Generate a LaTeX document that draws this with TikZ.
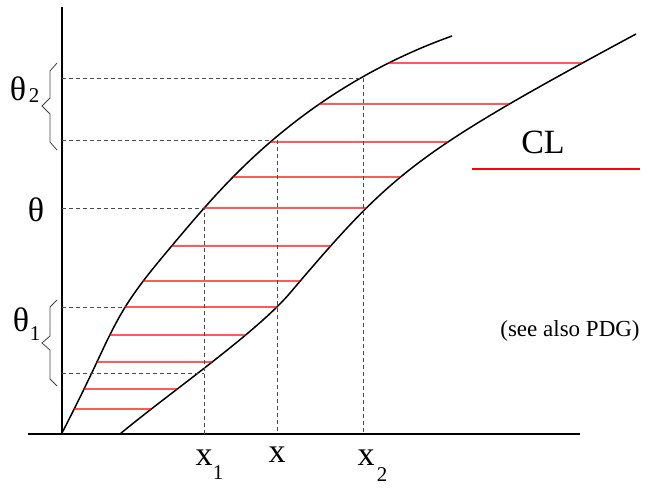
\documentclass[tikz,border=0pt]{standalone}
\usepackage{fontspec}
\setmainfont{Liberation Serif}
\usetikzlibrary{intersections,hobby}
\begin{document}
\begin{tikzpicture}[x=1pt,y=-1pt,
  curve/.style={line width=1.5pt, black, line join=round},
  axisline/.style={line width=1.6pt, black},
  redline/.style={red, line width=1.4pt},
  guide/.style={black!70, line width=0.9pt, dash pattern=on 4pt off 3pt},
  bracestyle/.style={black!75, line width=0.8pt},
  big/.style={inner sep=0pt, font=\fontsize{34}{40}\selectfont},
  sub/.style={inner sep=0pt, font=\fontsize{21}{25}\selectfont},
  note/.style={inner sep=0pt, font=\fontsize{23}{28}\selectfont}]
\useasboundingbox (0,0) rectangle (647,487);
% axes
\coordinate (yt) at (62,7);
\coordinate (o) at (62,434);
\coordinate (xl) at (28,434);
\coordinate (xr) at (580,434);
\draw[axisline] (yt) -- (o);
\draw[axisline] (xl) -- (xr);
% curves
\draw[curve, name path=lc, use Hobby shortcut] (62,433) .. (96,364) .. (124,309) .. (170,248) .. (233,177) .. (318,105) .. (452,36);
\coordinate (r0) at (120,434);
\coordinate (r1) at (290,293);
\coordinate (r2) at (636,34);
\draw[curve, name path=rc] (r0)
  .. controls (168,394) and (256,333) .. (r1)
  .. controls (392,173) and (413,154) .. (r2);
% red chords
\foreach \yy in {63,104,142,177,208,246,281,307,335,362,389,409} {
  \path[name path=hl] (0,\yy) -- (647,\yy);
  \path[name intersections={of=lc and hl, name=a}];
  \path[name intersections={of=rc and hl, name=b}];
  \draw[redline] (a-1) -- (b-1);
}
% dashed guides
\draw[guide] (62,78) -- (363,78) -- (363,434);
\draw[guide] (62,140) -- (272,140);
\draw[guide] (277,140) -- (277,434);
\draw[guide] (62,208) -- (204,208) -- (204,434);
\draw[guide] (62,307) -- (124,307);
\draw[guide] (62,373) -- (204,373);
% braces
\draw[bracestyle] (57,63) -- (50,71) -- (50,98) -- (42,106) -- (50,114) -- (50,142) -- (57,150);
\draw[bracestyle] (57,300) -- (50,307) -- (50,336) -- (42,343) -- (50,350) -- (50,379) -- (57,386);
% labels
\node[big] (th2) at (18,89) {θ};
\node[sub] (th2s) at (34,96) {2};
\node[big] (th) at (36,210) {θ};
\node[big] (th1) at (21,320) {θ};
\node[sub] (th1s) at (35,334) {1};
\node[big] (x1) at (204,458) {x};
\node[sub] (x1s) at (218,473) {1};
\node[big] (xx) at (277,455) {x};
\node[big] (x2) at (366,458) {x};
\node[sub] (x2s) at (382,475) {2};
\node[big] (cl) at (543,142) {CL};
\coordinate (cla) at (472,169);
\coordinate (clb) at (640,169);
\draw[redline] (cla) -- (clb);
\node[note] (see) at (570,331) {(see also PDG)};
\end{tikzpicture}
\end{document}
